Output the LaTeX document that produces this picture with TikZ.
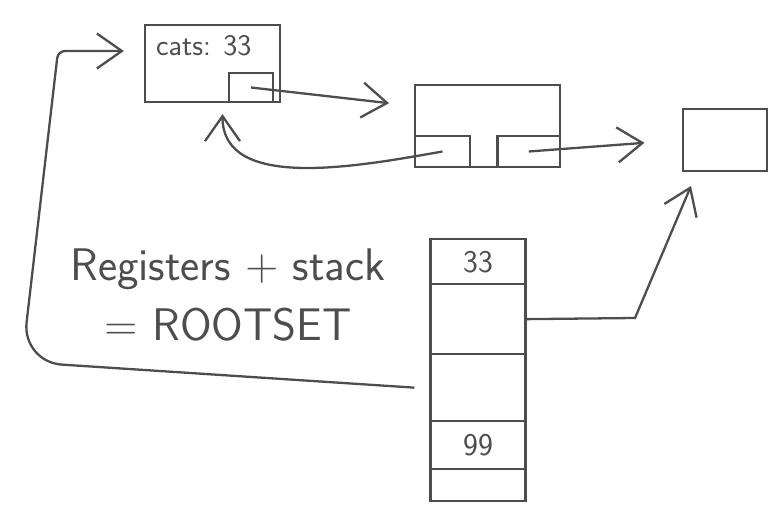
\documentclass[tikz,border=0pt]{standalone}
\usepackage{xcolor}
\usepackage{tikz}
\usetikzlibrary{arrows.meta,positioning,calc}
\definecolor{pencil}{HTML}{4D4D4D}
\tikzset{
  cell/.style={draw=pencil,line width=1.3pt,inner sep=0pt,text=pencil,font=\sffamily\fontsize{18}{22}\selectfont},
  slot/.style={cell,minimum width=1.9cm},
  tag/.style={inner sep=0pt,text=pencil,font=\sffamily\fontsize{17}{20}\selectfont},
  ptr/.style={-{Straight Barb[length=5mm,width=7mm]},line width=1.3pt,color=pencil},
  note/.style={font=\sffamily\fontsize{26}{34}\selectfont,text=pencil,align=center},
}

\begin{document}
\begin{tikzpicture}
    \useasboundingbox[fill=white] (0,0) rectangle (15.44,10.32);
    % heap objects
    \node[cell,minimum width=2.7cm,minimum height=1.54cm] (cats) at (4.25,9.05) {};
    \node[tag,anchor=north west] (catslbl) at ($(cats.north west)+(0.24,-0.22)$) {cats: 33};
    \node[cell,minimum width=0.88cm,minimum height=0.58cm,anchor=south east] (catsref) at ($(cats.south east)+(-0.14,0)$) {};
    \node[cell,minimum width=2.9cm,minimum height=1.64cm] (pair) at (9.75,7.80) {};
    \node[cell,minimum width=1.1cm,minimum height=0.62cm,anchor=south west] (car) at (pair.south west) {};
    \node[cell,minimum width=1.25cm,minimum height=0.62cm,anchor=south east] (cdr) at (pair.south east) {};
    \node[cell,minimum width=1.68cm,minimum height=1.24cm] (leaf) at (14.5,7.52) {};
    % the stack
    \node[slot,minimum height=0.9cm,anchor=north] (s1) at (9.56,5.56) {33};
    \node[slot,minimum height=1.4cm,below=-1.3pt of s1] (s2) {};
    \node[slot,minimum height=1.34cm,below=-1.3pt of s2] (s3) {};
    \node[slot,minimum height=0.96cm,below=-1.3pt of s3] (s4) {99};
    \node[slot,minimum height=0.64cm,below=-1.3pt of s4] (s5) {};
    \node[note] (rootset) at (4.56,4.42) {Registers + stack\\= ROOTSET};
    % pointers
    \coordinate (bend) at (12.7,3.96);
    \coordinate (lowcorner) at (0.44,3.08);
    \coordinate (topcorner) at (1.16,9.30);
    \draw[ptr,shorten >=0.5cm] (catsref.center) -- ($(pair.west)+(0,0.4)$);
    \draw[ptr,shorten >=0.22cm] (car.center) to[out=190,in=-90] ($(cats.south)+(0.2,0)$);
    \draw[ptr,shorten >=0.75cm] (cdr.center) -- (leaf.west);
    \draw[ptr,shorten >=0.3cm] (s2.east) -- (bend) -- ($(leaf.south west)+(0.3,0)$);
    \draw[ptr,shorten >=0.4cm] ($(s3.west)+(-0.3,0)$) [rounded corners=0.8cm] -- (lowcorner)
      [rounded corners=4pt] -- (topcorner) -- ($(cats.west)+(0,0.25)$);
\end{tikzpicture}
\end{document}
